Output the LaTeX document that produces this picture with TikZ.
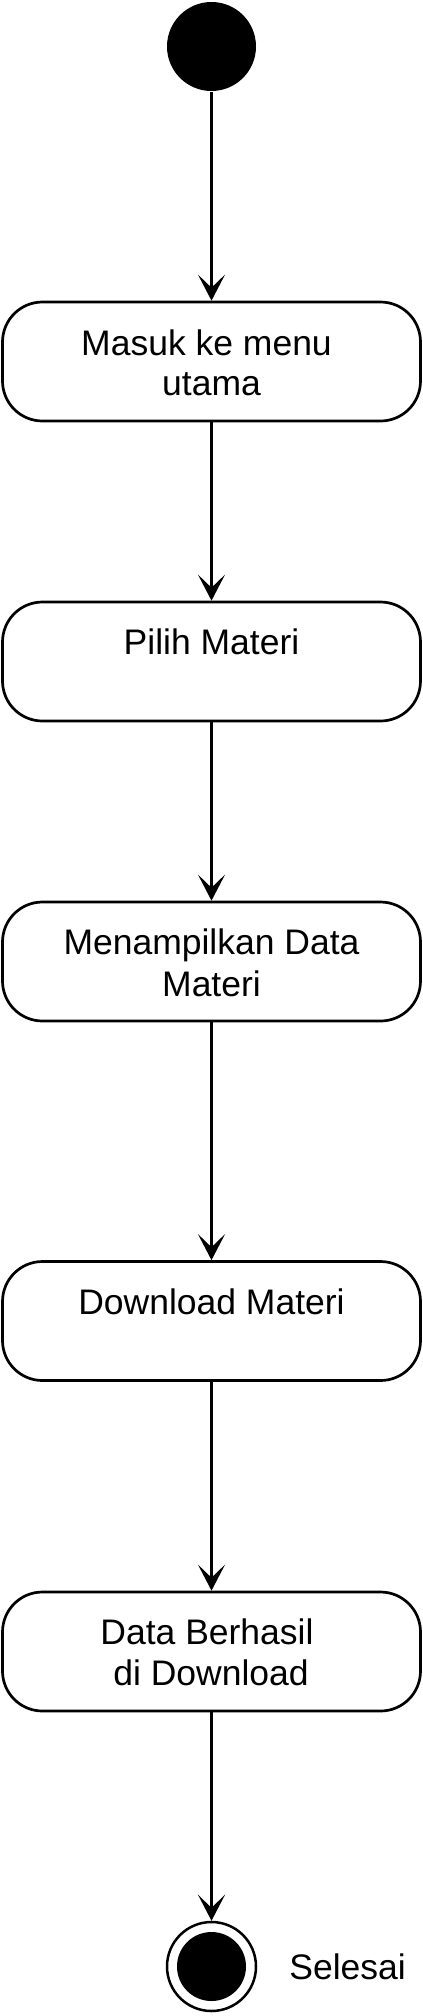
\documentclass[tikz,border=0pt]{standalone}
\usepackage{fontspec}
\setmainfont{Liberation Sans}
\usetikzlibrary{arrows.meta}
\begin{document}
\begin{tikzpicture}[x=1pt,y=-1pt, line width=2.7pt,
  act/.style={draw, rounded corners=40pt, minimum width=418pt, minimum height=119pt, inner sep=0pt},
  lbl/.style={anchor=base, font=\fontsize{35.5}{41}\selectfont, inner sep=0pt},
  flow/.style={-{Stealth[length=26pt,width=27pt,inset=13pt]}, line width=2.7pt}]
\useasboundingbox (0,0) rectangle (423,2016);
% start
\node[circle, fill=black, minimum size=89pt, inner sep=0pt] (start) at (211.5,46.5) {};
% activities
\node[act] (a1) at (211.5,361.5) {};
\node[act] (a2) at (211.5,661.5) {};
\node[act] (a3) at (211.5,961.5) {};
\node[act] (a4) at (211.5,1321) {};
\node[act] (a5) at (211.5,1651.5) {};
% labels
\node[lbl] (t1a) at (206.5,355) {Masuk ke menu};
\node[lbl] (t1b) at (211.5,395) {utama};
\node[lbl] (t2) at (211.5,654) {Pilih Materi};
\node[lbl] (t3a) at (211.5,954) {Menampilkan Data};
\node[lbl] (t3b) at (211.5,996) {Materi};
\node[lbl] (t4) at (211.5,1314) {Download Materi};
\node[lbl] (t5a) at (207,1644) {Data Berhasil};
\node[lbl] (t5b) at (211,1685) {di Download};
% end
\node[circle, draw, minimum size=89pt, inner sep=0pt, line width=2.5pt] (end) at (211.5,1966.5) {};
\node[circle, fill=black, minimum size=69pt, inner sep=0pt] (endin) at (211.5,1966.5) {};
\node[lbl, anchor=base west] (sel) at (288,1979) {Selesai};
% flows
\draw[flow] (start) -- (a1);
\draw[flow] (a1) -- (a2);
\draw[flow] (a2) -- (a3);
\draw[flow] (a3) -- (a4);
\draw[flow] (a4) -- (a5);
\draw[flow] (a5) -- (end);
\end{tikzpicture}
\end{document}
